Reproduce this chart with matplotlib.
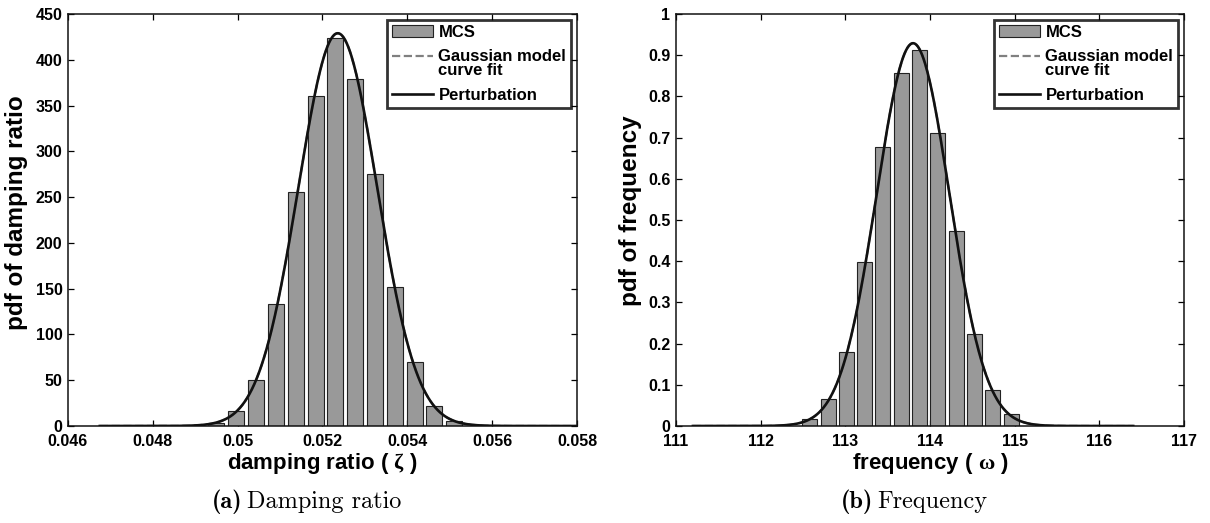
import numpy as np
import matplotlib
matplotlib.use("Agg")
import matplotlib.pyplot as plt
from matplotlib.lines import Line2D
from matplotlib.patches import Patch
from matplotlib.legend_handler import HandlerLine2D

plt.rcParams['font.family'] = ['Liberation Sans', 'DejaVu Sans']
plt.rcParams['font.weight'] = 'bold'
plt.rcParams['mathtext.fontset'] = 'custom'
plt.rcParams['mathtext.rm'] = 'Liberation Serif'

# damping ratio histogram (MCS) and fitted gaussian
zeta_centers = [0.04950, 0.04997, 0.05044, 0.05091, 0.05138, 0.05184, 0.05230,
                0.05277, 0.05324, 0.05370, 0.05417, 0.05464, 0.05510]
zeta_pdf = [3, 16, 50, 133, 256, 360, 424, 379, 275, 152, 70, 22, 5]
zeta_mean = 0.05236
zeta_std = 0.000930
zeta_range = (0.04675, 0.058)

# frequency histogram (MCS) and fitted gaussian
freq_centers = [112.58, 112.80, 113.01, 113.23, 113.44, 113.66, 113.88,
                114.09, 114.31, 114.53, 114.74, 114.96]
freq_pdf = [0.017, 0.065, 0.179, 0.398, 0.676, 0.858, 0.913,
            0.711, 0.473, 0.223, 0.087, 0.029]
freq_mean = 113.80
freq_std = 0.4294
freq_range = (111.2, 116.4)

zeta_xticks = [0.046, 0.048, 0.05, 0.052, 0.054, 0.056, 0.058]
zeta_xlabels = ['0.046', '0.048', '0.05', '0.052', '0.054', '0.056', '0.058']
zeta_yticks = list(range(0, 451, 50))
freq_xticks = [111, 112, 113, 114, 115, 116, 117]
freq_yticks = [0, 0.1, 0.2, 0.3, 0.4, 0.5, 0.6, 0.7, 0.8, 0.9, 1]
freq_ylabels = ['0', '0.1', '0.2', '0.3', '0.4', '0.5', '0.6', '0.7', '0.8', '0.9', '1']


def gauss(x, mu, s):
    return np.exp(-0.5 * ((x - mu) / s) ** 2) / (s * np.sqrt(2 * np.pi))


class HandlerTopLine(HandlerLine2D):
    # matlab puts the handle of a two line entry next to the first line
    def create_artists(self, legend, orig_handle, xdescent, ydescent,
                       width, height, fontsize, trans):
        arts = super().create_artists(legend, orig_handle, xdescent, ydescent,
                                      width, height, fontsize, trans)
        for a in arts:
            a.set_ydata(np.asarray(a.get_ydata()) + 0.65 * height)
        return arts


def panel(ax, centers, pdf, width, mu, s, xr):
    ax.bar(centers, pdf, width=width, color='#999999', edgecolor='#222222',
           linewidth=0.8, zorder=2)
    x = np.linspace(xr[0], xr[1], 600)
    ax.plot(x, gauss(x, mu, s), '--', color='#808080', lw=1.6, zorder=3)
    ax.plot(x, gauss(x, mu, s), '-', color='#111111', lw=1.9, zorder=4)
    ax.tick_params(direction='in', top=True, right=True, length=4,
                   width=0.9, labelsize=11.5)
    ax.tick_params(axis='x', pad=5.5)
    ax.tick_params(axis='y', pad=4)
    for sp in ax.spines.values():
        sp.set_linewidth(1.1)
        sp.set_color('#111111')
    dashed = Line2D([], [], ls='--', color='#808080', lw=1.6)
    handles = [Patch(facecolor='#999999', edgecolor='#222222', lw=0.8),
               dashed,
               Line2D([], [], ls='-', color='#111111', lw=1.9)]
    leg = ax.legend(handles, ['MCS', 'Gaussian model\ncurve fit', 'Perturbation'],
                    loc='upper right', fontsize=12, frameon=True, fancybox=False,
                    handlelength=2.5, handletextpad=0.3, labelspacing=0.55,
                    borderpad=0.3, borderaxespad=0.35,
                    handler_map={dashed: HandlerTopLine()})
    leg.get_frame().set_edgecolor('black')
    leg.get_frame().set_linewidth(2.0)
    for t in leg.get_texts():
        t.set_fontweight('bold')
        t.set_linespacing(0.95)


fig = plt.figure(figsize=(12.1, 5.23), dpi=100)

ax1 = fig.add_axes([68 / 1210, 97 / 523, 509 / 1210, 412 / 523])
panel(ax1, zeta_centers, zeta_pdf, 0.000377, zeta_mean, zeta_std, zeta_range)
ax1.set_xlim(0.046, 0.058)
ax1.set_ylim(0, 450)
ax1.set_xticks(zeta_xticks)
ax1.set_xticklabels(zeta_xlabels)
ax1.set_yticks(zeta_yticks)
ax1.set_xlabel(r'damping ratio ( $\mathrm{\zeta}$ )', fontsize=16,
               fontweight='bold', labelpad=2)
ax1.set_ylabel('pdf of damping ratio', fontsize=17.5, fontweight='bold')
ax1.yaxis.set_label_coords(-0.079, 0.517)

ax2 = fig.add_axes([676 / 1210, 97 / 523, 508 / 1210, 412 / 523])
panel(ax2, freq_centers, freq_pdf, 0.177, freq_mean, freq_std, freq_range)
ax2.set_xlim(111, 117)
ax2.set_ylim(0, 1)
ax2.set_xticks(freq_xticks)
ax2.set_yticks(freq_yticks)
ax2.set_yticklabels(freq_ylabels)
ax2.set_xlabel(r'frequency ( $\mathrm{\omega}$ )', fontsize=16,
               fontweight='bold', labelpad=2)
ax2.set_ylabel('pdf of frequency', fontsize=17.5, fontweight='bold')
ax2.yaxis.set_label_coords(-0.066, 0.522)

# captions
fig.text(243 / 1210, 1 - 502 / 523, '(a)', family='cmb10', fontsize=17.5,
         ha='right', va='center')
fig.text(247 / 1210, 1 - 502 / 523, 'Damping ratio', family='cmr10',
         fontsize=17.5, ha='left', va='center')
fig.text(873 / 1210, 1 - 502 / 523, '(b)', family='cmb10', fontsize=17.5,
         ha='right', va='center')
fig.text(877 / 1210, 1 - 502 / 523, 'Frequency', family='cmr10',
         fontsize=17.5, ha='left', va='center')

fig.savefig('out.png', dpi=100)
